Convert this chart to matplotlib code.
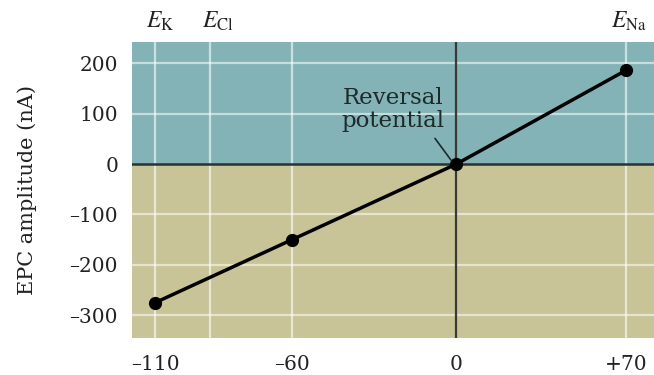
import numpy as np
import matplotlib
matplotlib.use("Agg")
import matplotlib.pyplot as plt
from matplotlib.scale import FuncScale

# Data
voltage = [-110, -60, 0, 70]            # mV
epc_amplitude = [-275, -150, 0, 186]    # nA
xtick_vals = [-110, -60, 0, 70]
xtick_labels = ["\u2013110", "\u201360", "0", "+70"]
ytick_vals = [-300, -200, -100, 0, 100, 200]
ytick_labels = ["\u2013300", "\u2013200", "\u2013100", "0", "100", "200"]
vgrid_vals = [-110, -90, -60, 70]       # E_K, E_Cl, -60, E_Na
hgrid_vals = [-300, -200, -100, 100, 200]
equil_labels = [(-108, r"$E_{\mathrm{K}}$"), (-87, r"$E_{\mathrm{Cl}}$"), (71, r"$E_{\mathrm{Na}}$")]

plt.rcParams["font.family"] = ["DejaVu Serif"]
plt.rcParams["mathtext.fontset"] = "stix"

fig = plt.figure(figsize=(6.54, 3.75), dpi=100)
ax = fig.add_axes([132 / 654, 37 / 375, 1 - 132 / 654, 296 / 375])

# the illustration compresses the positive side of the voltage axis
k = 0.885
ax.set_xscale(FuncScale(ax, (lambda x: np.where(x > 0, x * k, x),
                             lambda x: np.where(x > 0, x / k, x))))
ax.set_xlim(-118.4, 81.5)
ax.set_ylim(-345, 242)

teal = "#83b3b6"
tan = "#c8c497"
ax.axhspan(0, 300, color=teal, zorder=0, lw=0)
ax.axhspan(-400, 0, color=tan, zorder=0, lw=0)

for v in hgrid_vals:
    ax.axhline(v, color="white", alpha=0.55, lw=1.6, zorder=1)
for v in vgrid_vals:
    ax.axvline(v, color="white", alpha=0.6, lw=1.6, zorder=1)

ax.axhline(0, color="#263330", lw=1.8, zorder=2)
ax.axvline(0, color="#3a3a30", lw=1.6, zorder=2)

ax.plot(voltage, epc_amplitude, color="black", lw=2.5, marker="o",
        markersize=8.5, zorder=4)

for s in ax.spines.values():
    s.set_visible(False)

ax.set_xticks(xtick_vals)
ax.set_xticklabels(xtick_labels, fontsize=14.5)
ax.set_yticks(ytick_vals)
ax.set_yticklabels(ytick_labels, fontsize=14.5)
ax.tick_params(length=0, colors="#222222")
ax.tick_params(axis="x", pad=12)
ax.tick_params(axis="y", pad=10)
ax.set_ylabel("EPC amplitude (nA)", fontsize=15, color="#222222")
ax.yaxis.set_label_coords(-95 / 522, 0.5)

for xv, lab in equil_labels:
    ax.text(xv, 1.03, lab, transform=ax.get_xaxis_transform(), ha="center",
            va="bottom", fontsize=17, color="#222222")

ax.annotate("Reversal\npotential", xy=(-2, 8), xytext=(-23, 152),
            ha="center", va="top", fontsize=16.5, color="#1e2a2a",
            linespacing=1.05,
            arrowprops=dict(arrowstyle="-", color="#1e2a2a", lw=1.2,
                            shrinkA=3, shrinkB=0,
                            relpos=(0.86, 0.0)),
            zorder=5)

fig.savefig("out.png", dpi=100)
